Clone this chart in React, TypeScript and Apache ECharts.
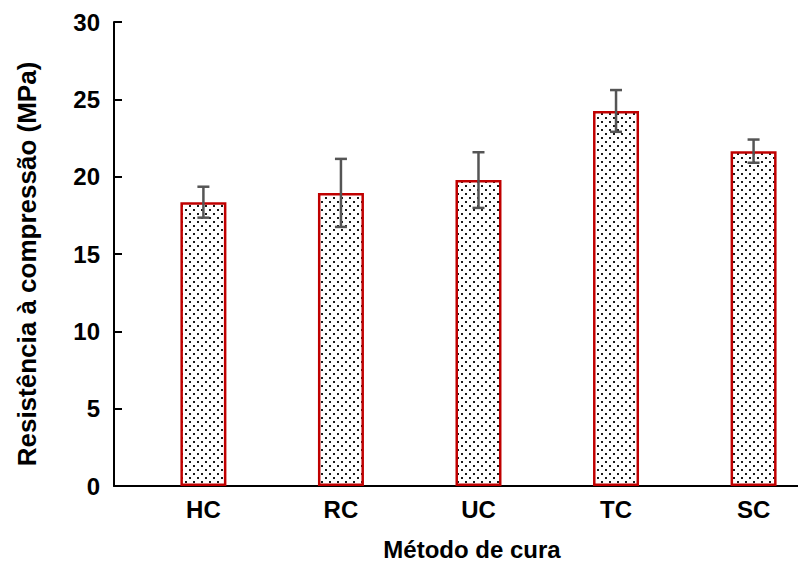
import React, { useEffect, useRef } from "react";
import * as echarts from "echarts";

const categories = ["HC", "RC", "UC", "TC", "SC"];
const positions = [1, 2, 3, 4, 5];
const strengths = [18.35, 18.95, 19.78, 24.25, 21.65];
const errors = [1.0, 2.2, 1.8, 1.35, 0.75];
const yTicks = [0, 5, 10, 15, 20, 25, 30];

function makeDots(): HTMLCanvasElement {
  const c = document.createElement("canvas");
  c.width = 8;
  c.height = 8;
  const ctx = c.getContext("2d")!;
  ctx.fillStyle = "#ffffff";
  ctx.fillRect(0, 0, 8, 8);
  ctx.fillStyle = "#1a1a1a";
  ctx.fillRect(1, 1, 2, 2);
  ctx.fillRect(5, 5, 2, 2);
  return c;
}

export default function App() {
  const ref = useRef<HTMLDivElement>(null);
  useEffect(() => {
    if (!ref.current) return;
    const chart = echarts.init(ref.current, null, { renderer: "svg" });
    const dots = makeDots();
    const barData = positions.map((p, i) => [p, strengths[i]]);
    const errData = positions.map((p, i) => [p, strengths[i] - errors[i], strengths[i] + errors[i]]);
    const font = "'Liberation Sans', Arial, sans-serif";
    chart.setOption({
      animation: false,
      backgroundColor: "#ffffff",
      grid: { left: 114, right: 0, top: 22, bottom: 76, containLabel: false, outerBoundsMode: "none" },
      xAxis: {
        type: "value",
        min: 0.35,
        max: 5.323,
        name: "Método de cura",
        nameLocation: "middle",
        nameGap: 51,
        nameTextStyle: { fontSize: 24, fontWeight: "bold", color: "#000", fontFamily: font, padding: [0, 0, 0, 32] },
        axisLine: { show: true, lineStyle: { color: "#000", width: 2 } },
        axisTick: { show: false },
        splitLine: { show: false },
        axisLabel: {
          customValues: positions,
          margin: 11,
          fontSize: 24,
          fontWeight: "bold",
          color: "#000",
          fontFamily: font,
          formatter: (v: number) => categories[Math.round(v) - 1] ?? "",
        },
      },
      yAxis: {
        type: "value",
        min: yTicks[0],
        max: yTicks[yTicks.length - 1],
        interval: 5,
        name: "Resistência à compressão (MPa)",
        nameLocation: "middle",
        nameGap: 74,
        nameTextStyle: { fontSize: 26, fontWeight: "bold", color: "#000", fontFamily: font, padding: [0, 20, 0, 0] },
        axisLine: { show: true, lineStyle: { color: "#000", width: 2 } },
        axisTick: { show: true, inside: true, length: 8, lineStyle: { color: "#000", width: 2 } },
        splitLine: { show: false },
        axisLabel: { margin: 14, fontSize: 24, fontWeight: "bold", color: "#000", fontFamily: font },
      },
      series: [
        {
          type: "bar",
          data: barData,
          barWidth: 46,
          itemStyle: {
            color: { image: dots, repeat: "repeat", imageWidth: 8, imageHeight: 8 },
            borderColor: "#c00000",
            borderWidth: 2.5,
          },
          z: 2,
        },
        {
          type: "custom",
          data: errData,
          z: 3,
          renderItem: (params: any, api: any) => {
            const x = api.value(0);
            const lo = api.coord([x, api.value(1)]);
            const hi = api.coord([x, api.value(2)]);
            const hw = 6;
            const style = { stroke: "#555555", lineWidth: 2.5 };
            return {
              type: "group",
              children: [
                { type: "line", shape: { x1: hi[0], y1: hi[1], x2: lo[0], y2: lo[1] }, style },
                { type: "line", shape: { x1: hi[0] - hw, y1: hi[1], x2: hi[0] + hw, y2: hi[1] }, style },
                { type: "line", shape: { x1: lo[0] - hw, y1: lo[1], x2: lo[0] + hw, y2: lo[1] }, style },
              ],
            };
          },
        },
      ],
    });
    return () => chart.dispose();
  }, []);
  return <div ref={ref} style={{ width: 798, height: 562, position: "absolute", left: 0, top: 0 }} />;
}
